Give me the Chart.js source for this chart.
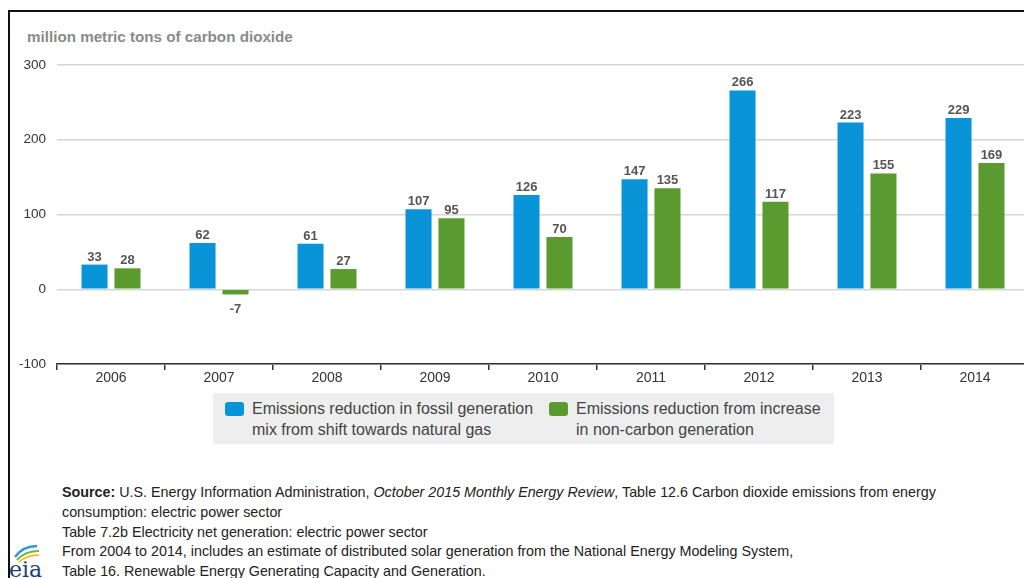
<!DOCTYPE html>
<html><head><meta charset="utf-8">
<script src="https://cdn.jsdelivr.net/npm/chart.js@4"></script>
<style>
html,body{margin:0;padding:0;background:#fff;width:1024px;height:578px;overflow:hidden;position:relative;font-family:Arial,"Liberation Sans",sans-serif;}
#frame{position:absolute;left:8px;top:10px;width:1030px;height:600px;border-left:2px solid #111;border-top:2px solid #111;}
#wrap{position:absolute;left:0;top:0;width:1040px;height:390px;}
#ytitle{position:absolute;left:27px;top:28px;font-size:15.2px;font-weight:bold;color:#8a8a8a;white-space:nowrap;}
#legend{position:absolute;left:213px;top:393px;width:621px;height:51px;background:#eeeeee;font-size:16px;color:#444;}
.li{position:absolute;top:5px;line-height:21px;white-space:nowrap;}
.sw{position:absolute;top:9px;width:19px;height:14px;border-radius:3px;}
#src{position:absolute;left:62px;top:483px;font-size:14.3px;color:#222;line-height:19.8px;white-space:nowrap;}
#logo{position:absolute;left:9px;top:542px;}
</style></head><body>
<div id="frame"></div>
<div id="ytitle">million metric tons of carbon dioxide</div>
<div id="wrap"><canvas id="c" width="1040" height="390"></canvas></div>
<div id="legend">
  <div class="sw" style="left:12px;background:#0a94d8"></div>
  <div class="li" style="left:39px">Emissions reduction in fossil generation<br>mix from shift towards natural gas</div>
  <div class="sw" style="left:336px;background:#5b9a2f"></div>
  <div class="li" style="left:363px">Emissions reduction from increase<br>in non-carbon generation</div>
</div>
<div id="src"><b>Source:</b> U.S. Energy Information Administration, <i>October 2015 Monthly Energy Review</i>, Table 12.6 Carbon dioxide emissions from energy<br>consumption: electric power sector<br>Table 7.2b Electricity net generation: electric power sector<br>From 2004 to 2014, includes an estimate of distributed solar generation from the National Energy Modeling System,<br>Table 16. Renewable Energy Generating Capacity and Generation.</div>
<svg id="logo" width="44" height="36" viewBox="0 0 44 36">
  <path d="M6 15 Q14 4 28 4" stroke="#2a9bd6" stroke-width="2.5" fill="none"/>
  <path d="M8 18 Q16 9 30 9" stroke="#7cb342" stroke-width="2" fill="none"/>
  <path d="M10 20 Q18 13 30 13" stroke="#f0b400" stroke-width="1.6" fill="none"/>
  <text x="0" y="35" font-family="DejaVu Serif,serif" font-size="22" fill="#1b3f77">eia</text>
</svg>
<script>
const categories = ["2006","2007","2008","2009","2010","2011","2012","2013","2014"];
const fossilShift = [33,62,61,107,126,147,266,223,229];
const nonCarbon = [28,-7,27,95,70,135,117,155,169];
const yTicks = [-100,0,100,200,300];

const labelPlugin = {
  id:'valLabels',
  afterDatasetsDraw(chart){
    const ctx = chart.ctx;
    ctx.save();
    ctx.font = 'bold 13px Arial, "Liberation Sans", sans-serif';
    ctx.fillStyle = '#555';
    ctx.textAlign = 'center';
    chart.data.datasets.forEach((ds,i)=>{
      chart.getDatasetMeta(i).data.forEach((bar,j)=>{
        const v = ds.data[j];
        if(v>=0){ ctx.textBaseline='bottom'; ctx.fillText(String(v), bar.x, bar.y-1); }
        else { ctx.textBaseline='top'; ctx.fillText(String(v), bar.x, bar.y+8); }
      });
    });
    ctx.restore();
  }
};

new Chart(document.getElementById('c'),{
  type:'bar',
  data:{labels:categories,datasets:[
    {label:'Emissions reduction in fossil generation mix from shift towards natural gas',data:fossilShift,backgroundColor:'#0a94d8',barPercentage:0.79,categoryPercentage:0.61},
    {label:'Emissions reduction from increase in non-carbon generation',data:nonCarbon,backgroundColor:'#5b9a2f',barPercentage:0.79,categoryPercentage:0.61}
  ]},
  options:{
    responsive:false,animation:false,
    layout:{padding:{top:65,right:11,left:0,bottom:0}},
    plugins:{legend:{display:false},tooltip:{enabled:false}},
    scales:{
      x:{
        offset:true,
        grid:{display:true,offset:true,drawOnChartArea:false,drawTicks:true,tickLength:6,color:'#333',lineWidth:1.5},
        border:{display:true,color:'#333',width:1.5},
        ticks:{color:'#333',font:{size:14,family:'Arial, "Liberation Sans", sans-serif'},padding:0},
        afterFit(s){s.height=26;}
      },
      y:{
        min:-100,max:300,
        afterBuildTicks(s){s.ticks=yTicks.map(v=>({value:v}));},
        grid:{color:'#d6d6d6',lineWidth:1.5,drawTicks:false},
        border:{display:false},
        ticks:{color:'#333',font:{size:13.5,family:'Arial, "Liberation Sans", sans-serif'},padding:11},
        afterFit(s){s.width=57;}
      }
    }
  },
  plugins:[labelPlugin]
});
</script>
</body></html>
